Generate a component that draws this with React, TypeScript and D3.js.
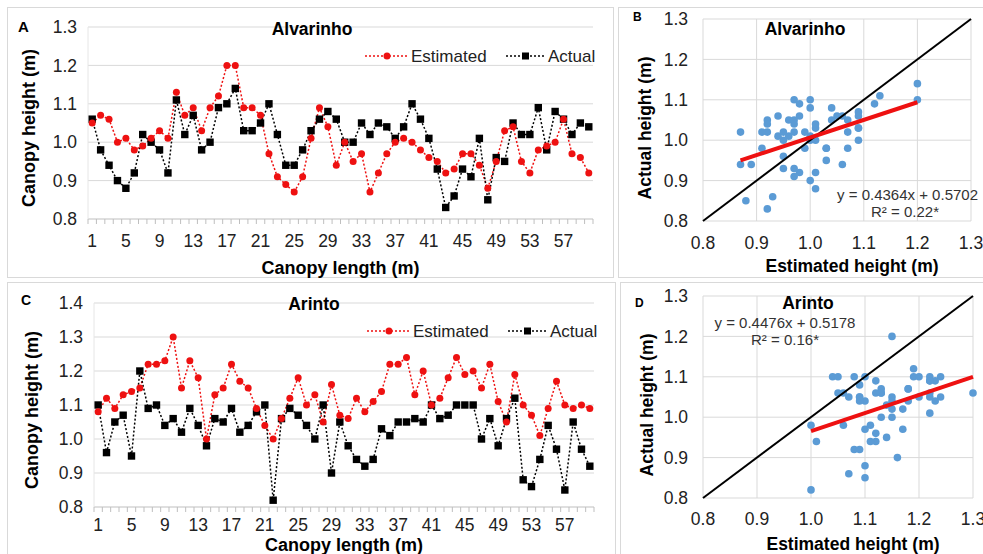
import React, { useRef, useLayoutEffect } from 'react';
import * as d3 from 'd3';

// canopy positions along the row (m)
const canopyLength = d3.range(1, 61);

// Alvarinho
const alvarinhoEstimated = [
    1.05, 1.07, 1.06, 1.00, 1.01, 0.98, 0.99, 1.01, 1.03, 1.01,
    1.13, 1.07, 1.09, 1.03, 1.09, 1.12, 1.20, 1.20, 1.09, 1.09,
    1.07, 0.97, 0.91, 0.89, 0.87, 0.91, 1.01, 1.09, 1.04, 0.94,
    1.00, 0.95, 0.97, 0.87, 0.92, 0.97, 1.00, 1.01, 1.00, 0.98,
    0.96, 0.95, 0.92, 0.93, 0.97, 0.97, 0.94, 0.88, 0.95, 1.03,
    1.04, 0.95, 0.92, 0.98, 0.99, 1.00, 1.06, 0.97, 0.96, 0.92
];
const alvarinhoActual = [
    1.06, 0.98, 0.94, 0.90, 0.88, 0.92, 1.02, 1.00, 0.98, 0.92,
    1.11, 1.02, 1.07, 0.98, 1.00, 1.09, 1.10, 1.14, 1.03, 1.03,
    1.05, 1.10, 1.02, 0.94, 0.94, 0.98, 1.03, 1.06, 1.08, 1.06,
    1.00, 1.00, 1.05, 1.02, 1.05, 1.04, 1.01, 1.04, 1.10, 1.06,
    1.01, 0.93, 0.83, 0.86, 0.93, 0.91, 1.01, 0.85, 0.96, 0.95,
    1.05, 1.02, 1.02, 1.09, 0.98, 1.08, 1.06, 1.02, 1.05, 1.04
];

// Arinto
const arintoEstimated = [
    1.08, 1.12, 1.09, 1.13, 1.14, 1.15, 1.22, 1.22, 1.23, 1.30,
    1.15, 1.23, 1.18, 1.00, 1.13, 1.15, 1.22, 1.17, 1.15, 1.09,
    1.04, 1.00, 1.06, 1.12, 1.18, 1.10, 1.13, 1.05, 1.16, 1.07,
    1.06, 1.12, 1.08, 1.11, 1.14, 1.22, 1.22, 1.24, 1.13, 1.20,
    1.10, 1.12, 1.18, 1.24, 1.19, 1.20, 1.15, 1.22, 1.11, 1.05,
    1.19, 1.10, 1.07, 1.01, 1.09, 1.17, 1.10, 1.09, 1.10, 1.09
];
const arintoActual = [
    1.10, 0.96, 1.05, 1.07, 0.95, 1.20, 1.09, 1.10, 1.04, 1.06,
    1.02, 1.09, 1.04, 0.98, 1.06, 1.05, 1.09, 1.02, 1.04, 1.08,
    1.10, 0.82, 1.06, 1.09, 1.07, 1.04, 1.00, 1.10, 0.90, 1.05,
    0.98, 0.94, 0.92, 0.94, 1.03, 1.01, 1.05, 1.05, 1.06, 1.05,
    1.10, 1.06, 1.07, 1.10, 1.10, 1.10, 1.00, 1.06, 0.98, 1.06,
    1.12, 0.88, 0.86, 0.94, 1.04, 0.97, 0.85, 1.05, 0.97, 0.92
];

const alvarinhoLineTicks = [0.8, 0.9, 1.0, 1.1, 1.2, 1.3];
const arintoLineTicks = [0.8, 0.9, 1.0, 1.1, 1.2, 1.3, 1.4];
const scatterTicks = [0.8, 0.9, 1.0, 1.1, 1.2, 1.3];

// trendline coefficients as printed on the plots
const alvarinhoFit = { slope: 0.4364, intercept: 0.5702, r2: '0.22*' };
const arintoFit = { slope: 0.4476, intercept: 0.5178, r2: '0.16*' };

const FONT = "'Liberation Sans', Arial, sans-serif";
const GRID = '#d9d9d9';
const RED = '#ee1111';
const BLUE = '#5b9bd5';
const fmt = d3.format('.1f');

function drawLinePanel(svg, p) {
    const g = svg.append('g');
    const x = d3.scaleBand().domain(canopyLength).range([p.left, p.right]);
    const y = d3.scaleLinear().domain([p.ticks[0], p.ticks[p.ticks.length - 1]]).range([p.bottom, p.top]);
    const cx = d => x(d) + x.bandwidth() / 2;

    // horizontal grid
    g.selectAll('.grid').data(p.ticks.slice(1)).join('line')
        .attr('x1', p.left).attr('x2', p.right)
        .attr('y1', d => y(d)).attr('y2', d => y(d))
        .attr('stroke', GRID).attr('stroke-width', 1);

    // axes
    g.append('line').attr('x1', p.left).attr('x2', p.right)
        .attr('y1', y(p.ticks[0])).attr('y2', y(p.ticks[0]))
        .attr('stroke', '#bfbfbf');
    g.append('line').attr('x1', p.left).attr('x2', p.left)
        .attr('y1', p.top).attr('y2', p.bottom)
        .attr('stroke', '#e6e6e6');
    g.selectAll('.tick').data(canopyLength.concat([null])).join('line')
        .attr('x1', (d, i) => p.left + i * x.bandwidth())
        .attr('x2', (d, i) => p.left + i * x.bandwidth())
        .attr('y1', p.bottom).attr('y2', p.bottom + 5)
        .attr('stroke', '#bfbfbf');

    // tick labels
    g.selectAll('.ylab').data(p.ticks).join('text')
        .attr('x', p.left - 11).attr('y', d => y(d)).attr('dy', '0.35em')
        .attr('text-anchor', 'end')
        .style('font', `17.5px ${FONT}`).attr('fill', '#222')
        .text(d => fmt(d));
    g.selectAll('.xlab').data(canopyLength.filter(d => d % 4 === 1)).join('text')
        .attr('x', d => cx(d)).attr('y', p.xLabelY)
        .attr('text-anchor', 'middle')
        .style('font', `17.5px ${FONT}`).attr('fill', '#222')
        .text(d => d);

    // series
    const series = [
        { values: p.estimated, color: RED },
        { values: p.actual, color: '#000' }
    ];
    series.forEach(s => {
        g.append('path')
            .datum(s.values)
            .attr('fill', 'none')
            .attr('stroke', s.color)
            .attr('stroke-width', 1.5)
            .attr('stroke-dasharray', '2,2')
            .attr('d', d3.line().x((d, i) => cx(canopyLength[i])).y(d => y(d)));
    });
    g.selectAll('.sq').data(p.actual).join('rect')
        .attr('x', (d, i) => cx(canopyLength[i]) - 3.7)
        .attr('y', d => y(d) - 3.7)
        .attr('width', 7.4).attr('height', 7.4)
        .attr('fill', '#000');
    g.selectAll('.dot').data(p.estimated).join('circle')
        .attr('cx', (d, i) => cx(canopyLength[i]))
        .attr('cy', d => y(d))
        .attr('r', 3.5)
        .attr('fill', RED);

    // legend
    const lg = g.append('g').attr('transform', `translate(0,${p.legendY})`);
    lg.append('line').attr('x1', p.legendX).attr('x2', p.legendX + 44).attr('y1', 0).attr('y2', 0)
        .attr('stroke', RED).attr('stroke-width', 1.5).attr('stroke-dasharray', '2,2');
    lg.append('circle').attr('cx', p.legendX + 22).attr('cy', 0).attr('r', 3.5).attr('fill', RED);
    lg.append('text').attr('x', p.legendX + 46).attr('y', 0).attr('dy', '0.35em')
        .style('font', `17px ${FONT}`).attr('fill', '#222').text('Estimated');
    const ax = p.legendX + 141;
    lg.append('line').attr('x1', ax).attr('x2', ax + 40).attr('y1', 0).attr('y2', 0)
        .attr('stroke', '#000').attr('stroke-width', 1.5).attr('stroke-dasharray', '2,2');
    lg.append('rect').attr('x', ax + 16).attr('y', -3.5).attr('width', 7).attr('height', 7).attr('fill', '#000');
    lg.append('text').attr('x', ax + 42).attr('y', 0).attr('dy', '0.35em')
        .style('font', `17px ${FONT}`).attr('fill', '#222').text('Actual');

    // titles
    g.append('text').attr('x', p.titleX).attr('y', p.titleY).attr('text-anchor', 'middle')
        .style('font', `bold 17.5px ${FONT}`).text(p.title);
    g.append('text').attr('x', p.letterX).attr('y', p.letterY)
        .style('font', `bold ${p.letterSize}px ${FONT}`).text(p.letter);
    g.append('text').attr('x', (p.left + p.right) / 2).attr('y', p.xTitleY).attr('text-anchor', 'middle')
        .style('font', `bold 18px ${FONT}`).text('Canopy length (m)');
    g.append('text')
        .attr('transform', `translate(${p.yTitleX},${p.yTitleY}) rotate(-90)`)
        .attr('text-anchor', 'middle')
        .style('font', `bold 18px ${FONT}`).text('Canopy height (m)');
}

function drawScatterPanel(svg, p) {
    const g = svg.append('g');
    const x = d3.scaleLinear().domain([0.8, 1.3]).range([p.left, p.right]);
    const y = d3.scaleLinear().domain([0.8, 1.3]).range([p.bottom, p.top]);

    g.selectAll('.gx').data(scatterTicks).join('line')
        .attr('x1', d => x(d)).attr('x2', d => x(d))
        .attr('y1', p.top).attr('y2', p.bottom)
        .attr('stroke', GRID);
    g.selectAll('.gy').data(scatterTicks).join('line')
        .attr('x1', p.left).attr('x2', p.right)
        .attr('y1', d => y(d)).attr('y2', d => y(d))
        .attr('stroke', GRID);

    g.selectAll('.ylab').data(scatterTicks).join('text')
        .attr('x', p.left - 15).attr('y', d => y(d)).attr('dy', '0.35em')
        .attr('text-anchor', 'end')
        .style('font', `17.5px ${FONT}`).attr('fill', '#222')
        .text(d => fmt(d));
    g.selectAll('.xlab').data(scatterTicks).join('text')
        .attr('x', d => x(d)).attr('y', p.xLabelY)
        .attr('text-anchor', 'middle')
        .style('font', `17.5px ${FONT}`).attr('fill', '#222')
        .text(d => fmt(d));

    const pts = p.estimated.map((e, i) => [e, p.actual[i]]);
    g.selectAll('.pt').data(pts).join('circle')
        .attr('cx', d => x(d[0])).attr('cy', d => y(d[1]))
        .attr('r', 3.8).attr('fill', BLUE);

    // 1:1 line
    g.append('line').attr('x1', x(0.8)).attr('y1', y(0.8)).attr('x2', x(1.3)).attr('y2', y(1.3))
        .attr('stroke', '#000').attr('stroke-width', 2);

    // fitted trendline over the range of estimates
    const [xmin, xmax] = d3.extent(p.estimated);
    g.append('line')
        .attr('x1', x(xmin)).attr('y1', y(p.fit.slope * xmin + p.fit.intercept))
        .attr('x2', x(xmax)).attr('y2', y(p.fit.slope * xmax + p.fit.intercept))
        .attr('stroke', RED).attr('stroke-width', 4);

    g.append('text').attr('x', p.eqX).attr('y', p.eqY).attr('text-anchor', p.eqAnchor)
        .style('font', `15px ${FONT}`).attr('fill', '#333')
        .text(`y = ${p.fit.slope}x  + ${p.fit.intercept}`);
    g.append('text').attr('x', p.r2X).attr('y', p.eqY + 17).attr('text-anchor', 'middle')
        .style('font', `15px ${FONT}`).attr('fill', '#333')
        .text(`R² = ${p.fit.r2}`);

    g.append('text').attr('x', p.titleX).attr('y', p.titleY).attr('text-anchor', 'middle')
        .style('font', `bold 17.5px ${FONT}`).text(p.title);
    g.append('text').attr('x', p.letterX).attr('y', p.letterY)
        .style('font', `bold 12px ${FONT}`).text(p.letter);
    g.append('text').attr('x', (p.left + p.right) / 2 + 15).attr('y', p.xTitleY).attr('text-anchor', 'middle')
        .style('font', `bold 17.5px ${FONT}`).text('Estimated height (m)');
    g.append('text')
        .attr('transform', `translate(${p.yTitleX},${p.yTitleY}) rotate(-90)`)
        .attr('text-anchor', 'middle')
        .style('font', `bold 17.5px ${FONT}`).text('Actual height (m)');
}

const Figure = () => {
    const ref = useRef(null);

    useLayoutEffect(() => {
        const svg = d3.select(ref.current);
        svg.selectAll('*').remove();

        svg.append('rect').attr('width', 983).attr('height', 554).attr('fill', '#fff');

        // panel frames
        const frames = [[7, 7, 606, 270], [618, 7, 370, 270], [7, 282, 608, 280], [620, 282, 370, 280]];
        svg.selectAll('.frame').data(frames).join('rect')
            .attr('x', d => d[0] + 0.5).attr('y', d => d[1] + 0.5)
            .attr('width', d => d[2]).attr('height', d => d[3])
            .attr('fill', 'none').attr('stroke', '#d9d9d9');

        drawLinePanel(svg, {
            left: 88, right: 593, top: 27, bottom: 219,
            ticks: alvarinhoLineTicks,
            estimated: alvarinhoEstimated, actual: alvarinhoActual,
            xLabelY: 247, xTitleY: 274, yTitleX: 35, yTitleY: 128,
            title: 'Alvarinho', titleX: 312, titleY: 35,
            letter: 'A', letterX: 18, letterY: 32, letterSize: 15,
            legendX: 365, legendY: 56
        });
        drawLinePanel(svg, {
            left: 94, right: 594, top: 303, bottom: 507,
            ticks: arintoLineTicks,
            estimated: arintoEstimated, actual: arintoActual,
            xLabelY: 531, xTitleY: 551, yTitleX: 38, yTitleY: 410,
            title: 'Arinto', titleX: 314, titleY: 310,
            letter: 'C', letterX: 21, letterY: 305, letterSize: 14,
            legendX: 367, legendY: 331
        });
        drawScatterPanel(svg, {
            left: 703, right: 971, top: 19, bottom: 221,
            estimated: alvarinhoEstimated, actual: alvarinhoActual, fit: alvarinhoFit,
            xLabelY: 249, xTitleY: 272, yTitleX: 651, yTitleY: 128,
            title: 'Alvarinho', titleX: 805, titleY: 35,
            letter: 'B', letterX: 633, letterY: 21,
            eqX: 978, eqY: 200, eqAnchor: 'end', r2X: 905
        });
        drawScatterPanel(svg, {
            left: 703, right: 973, top: 296, bottom: 498,
            estimated: arintoEstimated, actual: arintoActual, fit: arintoFit,
            xLabelY: 525, xTitleY: 550, yTitleX: 653, yTitleY: 405,
            title: 'Arinto', titleX: 808, titleY: 309,
            letter: 'D', letterX: 635, letterY: 307,
            eqX: 785, eqY: 328, eqAnchor: 'middle', r2X: 785
        });
    }, []);

    return <svg ref={ref} width={983} height={554} style={{ display: 'block' }}></svg>;
};

export default function App() {
    return (
        <div style={{ position: 'absolute', left: 0, top: 0 }}>
            <Figure />
        </div>
    );
}
